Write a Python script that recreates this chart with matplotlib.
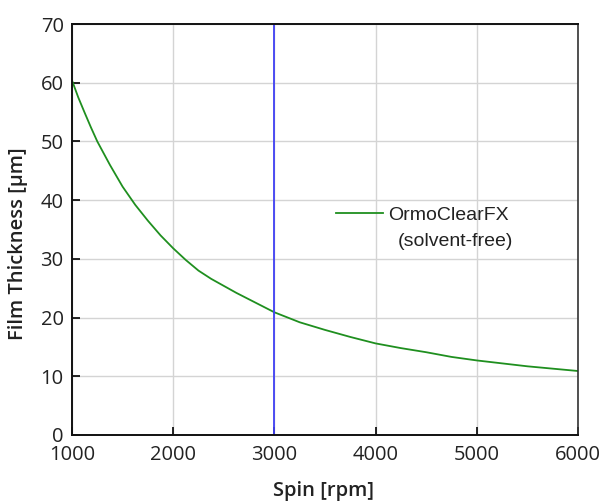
import numpy as np
import matplotlib
matplotlib.use("Agg")
import matplotlib.pyplot as plt

# spin speed (rpm) and film thickness (um)
spin = [1000, 1062, 1125, 1187, 1250, 1375, 1500, 1625, 1750, 1875, 2000, 2125,
        2250, 2375, 2500, 2625, 2750, 2875, 3000, 3250, 3500, 3750, 4000, 4250,
        4500, 4750, 5000, 5250, 5500, 5750, 6000]
thickness = [60.4, 57.5, 54.9, 52.4, 50.0, 46.0, 42.3, 39.2, 36.5, 34.0, 31.8, 29.8,
             28.0, 26.6, 25.4, 24.2, 23.1, 22.0, 20.9, 19.2, 17.9, 16.7, 15.6, 14.8,
             14.1, 13.3, 12.7, 12.2, 11.7, 11.3, 10.9]
marker_spin = 3000
series_name = "OrmoClearFX"
series_note = "(solvent-free)"

xticks = [1000, 2000, 3000, 4000, 5000, 6000]
yticks = [0, 10, 20, 30, 40, 50, 60, 70]

tick_font = dict(family=["Open Sans", "DejaVu Sans"], size=14.5)
label_font = dict(family=["Open Sans", "DejaVu Sans"], size=14.5, weight="semibold")
legend_font = dict(family=["Liberation Sans", "DejaVu Sans"], size=14)

fig = plt.figure(figsize=(6.02, 5.03), dpi=100)
ax = fig.add_axes([0.1196, 0.1352, 0.8405, 0.8170])

ax.grid(True, color="#d4d4d4", linewidth=1.0)
ax.set_axisbelow(True)

ax.plot(spin, thickness, color="#1f8f1f", linewidth=1.3, label=series_name)
ax.axvline(marker_spin, color="#4040f4", linewidth=1.3)

ax.set_xlim(1000, 6000)
ax.set_ylim(0, 70)
ax.set_xticks(xticks)
ax.set_yticks(yticks)
ax.set_xticklabels([str(t) for t in xticks], fontdict=tick_font, color="#222222")
ax.set_yticklabels([str(t) for t in yticks], fontdict=tick_font, color="#222222")
ax.tick_params(axis="x", direction="in", length=6, width=1.2, pad=7)
ax.tick_params(axis="y", direction="in", length=6, width=1.2, pad=6)

for side in ["left", "bottom", "top"]:
    ax.spines[side].set_linewidth(1.4)
    ax.spines[side].set_color("#111111")
ax.spines["right"].set_linewidth(1.2)
ax.spines["right"].set_color("#333333")

ax.set_xlabel("Spin [rpm]", fontdict=label_font, color="#222222")
ax.set_ylabel("Film Thickness [µm]", fontdict=label_font, color="#222222")
ax.xaxis.set_label_coords(0.498, -0.113)
ax.yaxis.set_label_coords(-0.087, 0.465)

leg = ax.legend(loc="center left", bbox_to_anchor=(0.522, 0.535), frameon=False,
                prop=legend_font, handlelength=2.4, handletextpad=0.3,
                borderpad=0, borderaxespad=0)
for t in leg.get_texts():
    t.set_color("#222222")
ax.text(0.644, 0.47, series_note, transform=ax.transAxes, ha="left", va="center",
        color="#222222", **legend_font)

fig.savefig("out.png", dpi=100)
